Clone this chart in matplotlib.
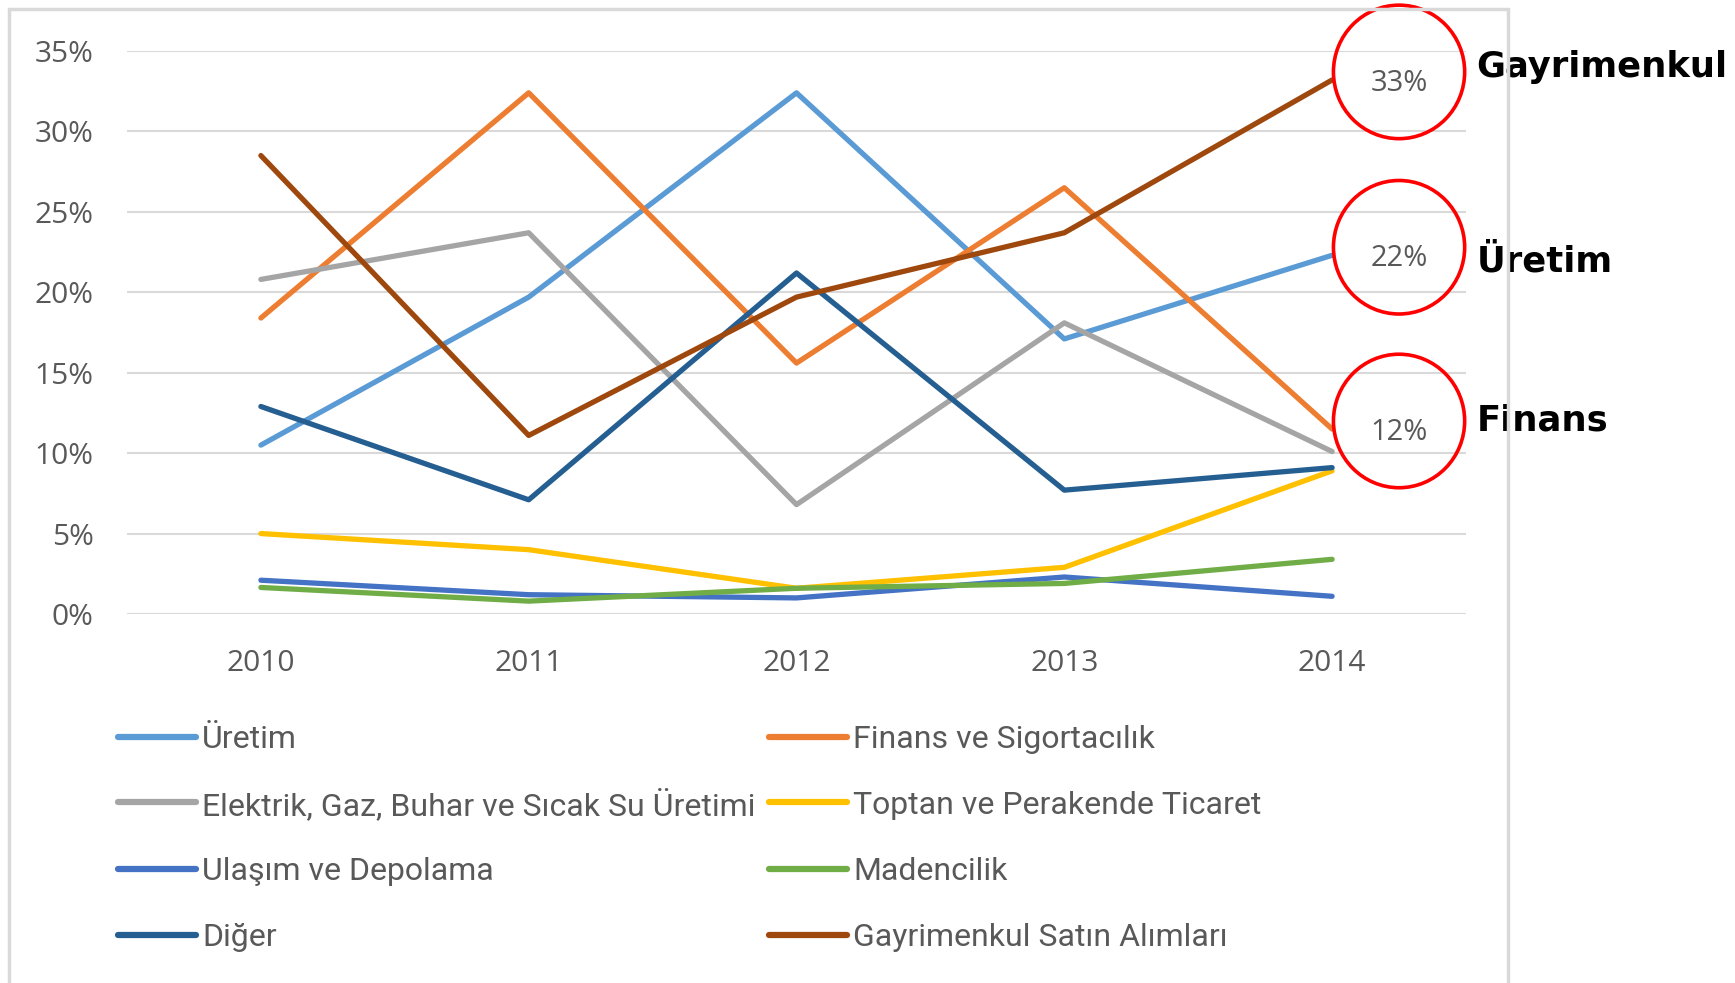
import matplotlib
matplotlib.use('Agg')
import matplotlib.pyplot as plt
from matplotlib.lines import Line2D
from matplotlib.patches import Ellipse, Rectangle

# data (share of total, %)
years = ['2010', '2011', '2012', '2013', '2014']
series_names = [
    'Üretim',
    'Finans ve Sigortacılık',
    'Elektrik, Gaz, Buhar ve Sıcak Su Üretimi',
    'Toptan ve Perakende Ticaret',
    'Ulaşım ve Depolama',
    'Madencilik',
    'Diğer',
    'Gayrimenkul Satın Alımları',
]
uretim = [10.5, 19.7, 32.4, 17.1, 22.3]
finans = [18.4, 32.4, 15.6, 26.5, 11.5]
elektrik = [20.8, 23.7, 6.8, 18.1, 10.1]
toptan = [5.0, 4.0, 1.6, 2.9, 8.9]
ulasim = [2.1, 1.2, 1.0, 2.3, 1.1]
madencilik = [1.65, 0.8, 1.6, 1.9, 3.4]
diger = [12.9, 7.1, 21.2, 7.7, 9.1]
gayrimenkul = [28.5, 11.1, 19.7, 23.7, 33.2]
series_values = [uretim, finans, elektrik, toptan, ulasim, madencilik, diger, gayrimenkul]

# callouts on the 2014 values
callout_series = [7, 0, 1]
callout_names = ['Gayrimenkul', 'Üretim', 'Finans']
name_offsets = [0.8, -0.4, 0.5]

colors = ['#5B9BD5', '#ED7D31', '#A5A5A5', '#FFC000',
          '#4472C4', '#70AD47', '#255E91', '#9E480E']
tick_color = '#595959'
grid_color = '#D9D9D9'

W, H = 1735, 983
fig = plt.figure(figsize=(W / 100, H / 100), dpi=100)
fig.patch.set_facecolor('white')

# chart border
fig.patches.append(Rectangle((9 / W, -0.05), (1508 - 9) / W, 1.05 - 9 / H,
                             transform=fig.transFigure, fill=False,
                             edgecolor=grid_color, linewidth=2.5))

ax = fig.add_axes([127 / W, 1 - 614 / H, (1466 - 127) / W, (614 - 51) / H])
x = list(range(len(years)))
handles = []
for vals, name, c in zip(series_values, series_names, colors):
    h, = ax.plot(x, vals, color=c, linewidth=3.8, label=name,
                 solid_capstyle='round', solid_joinstyle='round', zorder=3)
    handles.append(h)

ax.set_xlim(-0.5, len(years) - 0.5)
ax.set_ylim(0, 35)
ax.set_yticks(range(0, 36, 5))
ax.set_yticklabels([f'{v}%' for v in range(0, 36, 5)])
ax.set_xticks(x)
ax.set_xticklabels(years)
ax.tick_params(length=0, labelsize=21.5, labelcolor=tick_color)
ax.tick_params(axis='y', pad=24)
ax.tick_params(axis='x', pad=25)
for lab in ax.get_xticklabels() + ax.get_yticklabels():
    lab.set_family('Open Sans')
ax.grid(axis='y', color=grid_color, linewidth=1.5)
ax.set_axisbelow(True)
for s in ax.spines.values():
    s.set_visible(False)

# red circles with values and names
last = len(years) - 1
for idx, name, off in zip(callout_series, callout_names, name_offsets):
    v = series_values[idx][last]
    ax.add_patch(Ellipse((last + 0.25, v + 0.5), 0.49, 8.3, fill=False,
                         edgecolor='#FF0000', linewidth=2.6, clip_on=False, zorder=5))
    ax.text(last + 0.25, v - 0.2, f'{round(v)}%', ha='center', va='center',
            fontsize=21, color=tick_color, family='Open Sans', zorder=6)
    ax.text(last + 0.54, v + off, name, ha='left', va='center',
            fontsize=25.5, fontweight='bold', color='black', clip_on=False)

# legend: two columns, four rows, drawn item by item so rows line up
col_x = [118, 769]
row_y = [737, 802, 869, 935]
for i, (h, name) in enumerate(zip(handles, series_names)):
    x0 = col_x[i % 2]
    y0 = 1 - row_y[i // 2] / H
    fig.add_artist(Line2D([x0 / W, (x0 + 78) / W], [y0, y0],
                          transform=fig.transFigure, color=h.get_color(),
                          linewidth=4.5, solid_capstyle='round'))
    fig.text((x0 + 84) / W, y0, name, ha='left', va='center_baseline',
             family='Roboto', fontsize=23, color=tick_color)

fig.savefig('out.png', dpi=100, facecolor='white')
